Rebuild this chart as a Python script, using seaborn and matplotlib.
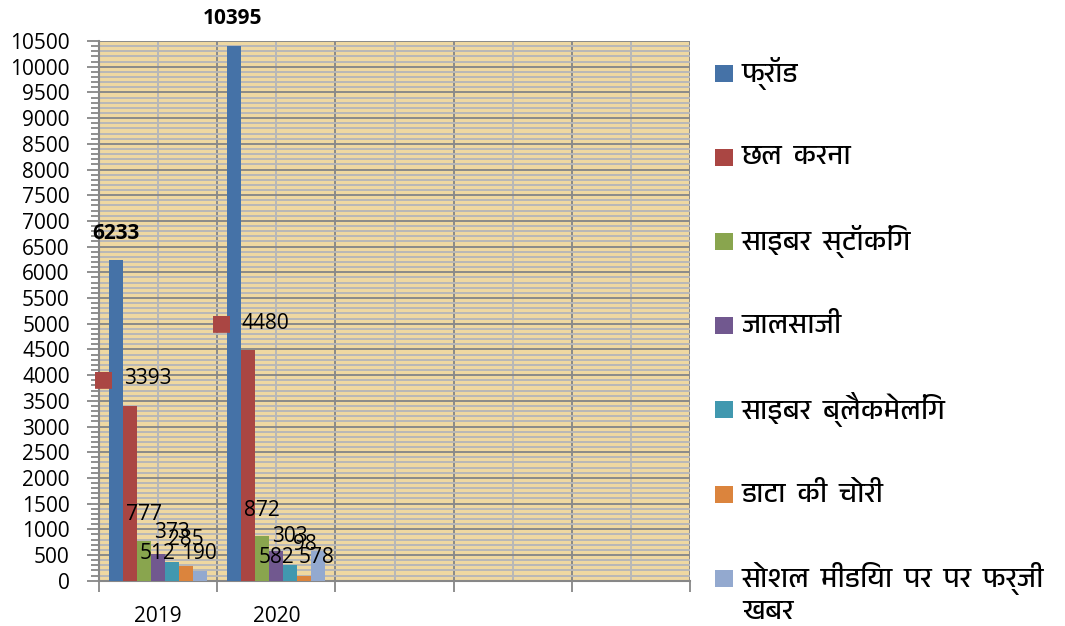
import numpy as np
import pandas as pd
import matplotlib
matplotlib.use("Agg")
import matplotlib.pyplot as plt
import seaborn as sns
from matplotlib import font_manager as fm
from matplotlib import ft2font
from matplotlib.patches import Rectangle
from matplotlib.ticker import MultipleLocator, FixedLocator

# ---------------- data ----------------
years = ["2019", "2020"]
categories = ["फ्रॉड", "छल करना", "साइबर स्टॉकिंग", "जालसाजी",
              "साइबर ब्लैकमेलिंग", "डाटा की चोरी", "सोशल मीडिया पर पर फर्जी खबर"]
legend_lines = [["फ्रॉड"], ["छल  करना"], ["साइबर  स्टॉकिंग"], ["जालसाजी"],
                ["साइबर  ब्लैकमेलिंग"], ["डाटा  की  चोरी"],
                ["सोशल  मीडिया  पर  पर  फर्जी", "खबर"]]
values_2019 = [6233, 3393, 777, 512, 373, 285, 190]
values_2020 = [10395, 4480, 872, 582, 303, 98, 578]
x_slots = ["2019", "2020", "slot3", "slot4", "slot5"]
x_tick_labels = ["2019", "2020", "", "", ""]
y_ticks = list(range(0, 10501, 500))

colors = ["#4572A7", "#AA4643", "#89A54E", "#71588F", "#4198AF", "#DB843D", "#93A9CF"]

# label style: (dx px, dy px) from bar top centre, bold flag, key flag
label_style = {
    (0, 0): (0, 27, True, False), (0, 1): (17.5, 27.5, False, True),
    (0, 2): (0, 26.5, False, False), (0, 3): (-1, 1, False, False),
    (0, 4): (0, 29, False, False), (0, 5): (0, 27, False, False),
    (0, 6): (-1, 17.5, False, False),
    (1, 0): (-1.5, 28, True, False), (1, 1): (17.5, 27, False, True),
    (1, 2): (0, 25.5, False, False), (1, 3): (0.5, -6.5, False, False),
    (1, 4): (0, 29, False, False), (1, 5): (0.5, 31, False, False),
    (1, 6): (-2, -6.5, False, False),
}

df = pd.DataFrame({
    "year": [y for y in years for _ in categories],
    "category": categories * len(years),
    "value": values_2019 + values_2020,
})

# ---------------- fonts ----------------
def _has(path, ch):
    try:
        return ord(ch) in ft2font.FT2Font(path).get_charmap()
    except Exception:
        return False

deva = None
for f in fm.fontManager.ttflist:
    if "Devanagari" in f.name and f.style == "normal":
        deva = f.name
        break
if deva is None:
    for f in fm.fontManager.ttflist:
        if _has(f.fname, "क"):
            deva = f.name
            break

latin = "Open Sans"
plt.rcParams["font.family"] = [latin, "DejaVu Sans"]
hindi_family = ([deva] if deva else []) + [latin, "DejaVu Sans"]

FS = 15
W, H = 1065, 626

# ---------------- figure ----------------
fig = plt.figure(figsize=(W / 100, H / 100), dpi=100)
fig.patch.set_facecolor("white")
ax = fig.add_axes([99 / W, 1 - 580.7 / H, (690 - 99) / W, (580.7 - 41) / H])
ax.set_facecolor("#EFD8A1")

sns.barplot(data=df, x="year", y="value", hue="category", order=x_slots,
            hue_order=categories, palette=colors, width=0.83, saturation=1,
            errorbar=None, legend=False, ax=ax, zorder=3)

ax.set_xlim(-0.5, len(x_slots) - 0.5)
ax.set_ylim(0, 10500)
ax.set_xlabel("")
ax.set_ylabel("")

# y axis
ax.yaxis.set_major_locator(FixedLocator(y_ticks))
ax.yaxis.set_minor_locator(MultipleLocator(100))
ax.set_yticklabels([str(t) for t in y_ticks], fontsize=FS)
ax.tick_params(axis="y", which="major", length=9, width=1.3, color="#878787", pad=12)
ax.tick_params(axis="y", which="minor", length=6, width=1.3, color="#878787")

# x axis
ax.set_xticks(range(len(x_slots)))
ax.set_xticklabels(x_tick_labels, fontsize=FS)
ax.set_xticks(np.arange(-0.5, len(x_slots), 1.0), minor=True)
ax.tick_params(axis="x", which="major", length=0, pad=18)
ax.tick_params(axis="x", which="minor", length=8, width=1.3, color="#878787")

ax.set_axisbelow(True)
ax.grid(True, axis="y", which="major", color="#8a8a8a", lw=1.4, zorder=1)
ax.grid(True, axis="y", which="minor", color="#b8b8b8", lw=1.4, zorder=0)
ax.grid(True, axis="x", which="minor", color="#8a8a8a", lw=1.4, zorder=1)
ax.grid(True, axis="x", which="major", color="#b8b8b8", lw=1.4, zorder=0)

for s in ["top", "right"]:
    ax.spines[s].set_visible(False)
for s in ["left", "bottom"]:
    ax.spines[s].set_color("#878787")
    ax.spines[s].set_linewidth(1.5)

# data labels
PX = 0.72
for j, cont in enumerate(ax.containers):
    for bar in cont.patches:
        h = bar.get_height()
        if np.isnan(h):
            continue
        xc = bar.get_x() + bar.get_width() / 2
        yi = int(round(xc))
        dx, dy, bold, key = label_style[(yi, j)]
        ax.annotate(f"{int(round(h))}", xy=(xc, h), xytext=(dx * PX, dy * PX),
                    textcoords="offset points", ha="center", va="center",
                    fontsize=FS, fontweight="bold" if bold else "normal",
                    color="black", zorder=6, annotation_clip=False)
        if key:
            ax.annotate("■", xy=(xc, h), xytext=((dx - 44.5) * PX, dy * PX),
                        textcoords="offset points", ha="center", va="center",
                        fontsize=16, color=colors[j], family="DejaVu Sans",
                        zorder=6, annotation_clip=False)

# legend (drawn as figure-level keys and texts)
leg_top, leg_step, line_step = 73, 84.2, 34
for i, (c, lines) in enumerate(zip(colors, legend_lines)):
    yc = leg_top + leg_step * i
    fig.patches.append(Rectangle((715 / W, 1 - (yc + 8.5) / H), 18 / W, 17 / H,
                                 transform=fig.transFigure, facecolor=c,
                                 edgecolor="none"))
    for k, line in enumerate(lines):
        fig.text(742 / W, 1 - (yc + k * line_step) / H, line, ha="left",
                 va="center", fontsize=20, family=hindi_family, color="black")

fig.savefig("out.png", dpi=100)
